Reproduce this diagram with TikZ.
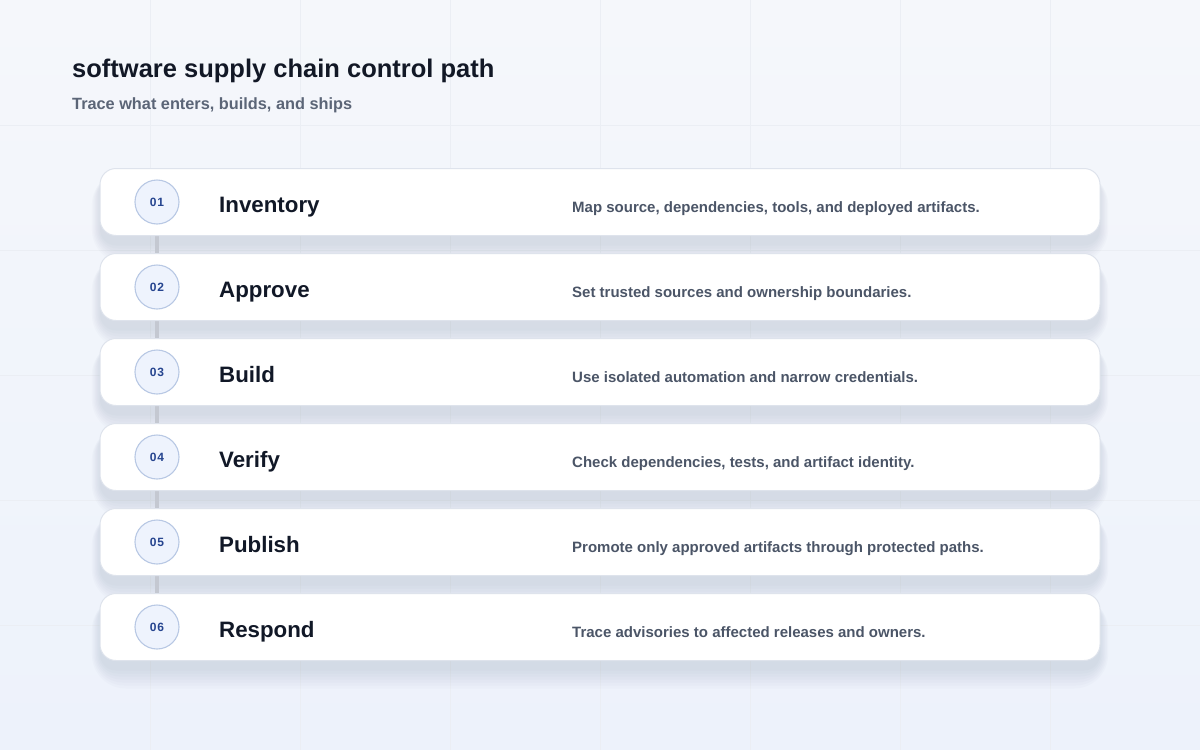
\documentclass[tikz,border=0pt]{standalone}
\usepackage{fontspec}
\setmainfont{Liberation Sans}
\usetikzlibrary{positioning}
\definecolor{bgtop}{HTML}{F5F7FB}
\definecolor{bgbot}{HTML}{EDF2FB}
\definecolor{gridc}{HTML}{EBEEF4}
\definecolor{titlec}{HTML}{121826}
\definecolor{subc}{HTML}{5B6577}
\definecolor{steptc}{HTML}{111827}
\definecolor{descc}{HTML}{4B5567}
\definecolor{numc}{HTML}{25448F}
\definecolor{circfill}{HTML}{EEF3FD}
\definecolor{circdraw}{HTML}{B8C8E4}
\definecolor{cardline}{HTML}{DEE3EC}
\definecolor{shadowc}{HTML}{6B7A99}
\definecolor{linkc}{HTML}{C4C8D1}
\tikzset{
  cardbox/.style={draw=cardline, line width=1pt, fill=white, rounded corners=16pt,
    minimum width=1000pt, minimum height=67pt, inner sep=0pt, outer sep=0pt},
  numcirc/.style={circle, draw=circdraw, line width=1.1pt, fill=circfill,
    minimum size=44pt, inner sep=0pt, text=numc, font=\fontsize{12}{14}\selectfont\bfseries},
  steptitle/.style={anchor=base west, inner sep=0pt, text=steptc,
    font=\fontsize{22.3}{26}\selectfont\bfseries},
  stepdesc/.style={anchor=base west, inner sep=0pt, text=descc,
    font=\fontsize{15}{18}\selectfont\bfseries},
  linkline/.style={draw=linkc, line width=4pt},
}
\begin{document}
\begin{tikzpicture}[x=1pt,y=-1pt]
\useasboundingbox (0,0) rectangle (1200,750);
% background
\shade[top color=bgtop, bottom color=bgbot] (0,0) rectangle (1200,750);
\foreach \gx in {150,300,...,1050} \draw[gridc, line width=0.7pt] (\gx,0) -- (\gx,750);
\foreach \gy in {125,250,...,625} \draw[gridc, line width=0.7pt] (0,\gy) -- (1200,\gy);
% title
\node[anchor=base west, inner sep=0pt, text=titlec, font=\fontsize{25.5}{30}\selectfont\bfseries] (title) at (72,77) {software supply chain control path};
\node[anchor=base west, inner sep=0pt, text=subc, font=\fontsize{16.3}{20}\selectfont\bfseries] (subtitle) at (72,109.5) {Trace what enters, builds, and ships};
% shadows
\foreach \i in {0,...,5}{
  \pgfmathsetmacro{\ctop}{168.5+85*\i}
  \pgfmathsetmacro{\cbot}{235.5+85*\i}
  \foreach \k in {0,3,6,9,12,15,18}{
    \fill[shadowc, opacity=0.026, rounded corners=16pt+\k pt]
      (100-\k*0.45, \ctop+8-\k*0.3) rectangle (1100+\k*0.45, \cbot+10+\k);
  }
}
% circle centres; connectors behind the cards
\foreach \i in {0,...,5}{
  \coordinate (cc\i) at (157,202+85*\i);
}
\foreach \i/\j in {0/1,1/2,2/3,3/4,4/5}{
  \draw[linkline] ([yshift=-22pt]cc\i) -- ([yshift=22pt]cc\j);
}
% cards
\foreach \i/\t/\d [count=\n] in {
  0/Inventory/{Map source, dependencies, tools, and deployed artifacts.},
  1/Approve/{Set trusted sources and ownership boundaries.},
  2/Build/{Use isolated automation and narrow credentials.},
  3/Verify/{Check dependencies, tests, and artifact identity.},
  4/Publish/{Promote only approved artifacts through protected paths.},
  5/Respond/{Trace advisories to affected releases and owners.}}{
  \node[cardbox] (card\n) at (600,202+85*\i) {};
  \node[numcirc] (num\n) at (cc\i) {0\kern1pt\n};
  \node[steptitle] (title\n) at (219,212.5+85*\i) {\t};
  \node[stepdesc] (desc\n) at (572,212.5+85*\i) {\d};
}
\end{tikzpicture}
\end{document}
